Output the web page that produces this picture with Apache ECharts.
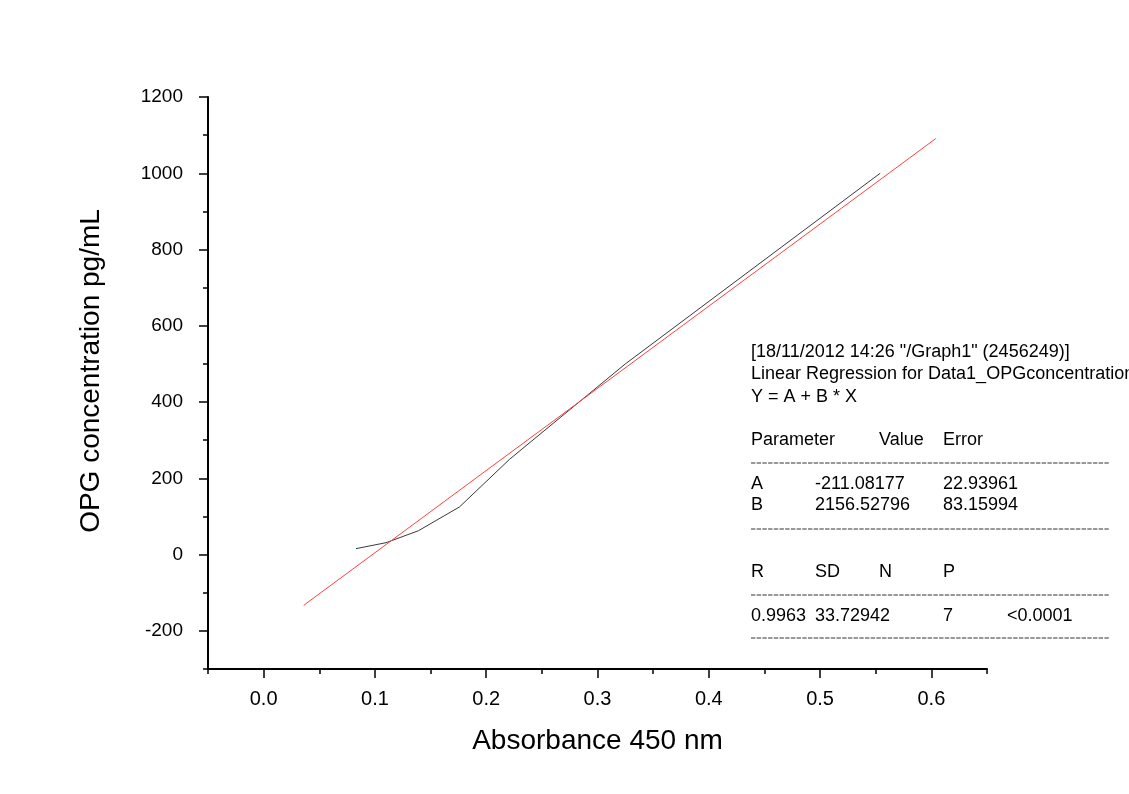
<!DOCTYPE html>
<html>
<head>
<meta charset="utf-8">
<script src="https://cdn.jsdelivr.net/npm/echarts@6/dist/echarts.min.js"></script>
<style>html,body{margin:0;padding:0;background:#fff}#c{width:1129px;height:794px}</style>
</head>
<body>
<div id="c"></div>
<script>
// ---- data ----
const absorbance = [0.083, 0.110, 0.139, 0.176, 0.221, 0.325, 0.554];
const concentration = [15.6, 31.25, 62.5, 125, 250, 500, 1000];
const fitX = [0.036, 0.604];
const fitY = [-133, 1091];

const xMajorTicks = [0.0, 0.1, 0.2, 0.3, 0.4, 0.5, 0.6];
const xMinorTicks = [-0.05, 0.05, 0.15, 0.25, 0.35, 0.45, 0.55, 0.65];
const yMajorTicks = [-200, 0, 200, 400, 600, 800, 1000, 1200];
const yMinorTicks = [-300, -100, 100, 300, 500, 700, 900, 1100];

const boxHeader = ['[18/11/2012 14:26 "/Graph1" (2456249)]', 'Linear Regression for Data1_OPGconcentration', 'Y = A + B * X'];
const paramHeader = ['Parameter', 'Value', 'Error'];
const paramRows = [['A', '-211.08177', '22.93961'], ['B', '2156.52796', '83.15994']];
const statHeader = ['R', 'SD', 'N', 'P'];
const statRow = ['0.9963', '33.72942', '7', '<0.0001'];

const FONT = '"Liberation Sans", Arial, sans-serif';
const chart = echarts.init(document.getElementById('c'), null, {renderer: 'canvas'});

const axisCommon = {
  type: 'value',
  splitLine: {show: false},
  axisLine: {show: true, onZero: false, lineStyle: {color: '#000', width: 2}},
};
const dataPts = absorbance.map((x, i) => [x, concentration[i]]);
const fitPts = fitX.map((x, i) => [x, fitY[i]]);

// text box
const bx = 751;
const col = [751, 815, 879, 943, 1007];
const tstyle = (t, x, y) => ({type: 'text', x: x, y: y, style: {text: t, fill: '#000', font: '18px ' + FONT, textVerticalAlign: 'middle'}});
const dash = (y) => ({type: 'line', shape: {x1: bx, y1: y, x2: 1109, y2: y}, style: {stroke: '#333', lineWidth: 1, lineDash: [4.4, 1.3]}});
const graphics = [];
boxHeader.forEach((t, i) => graphics.push(tstyle(t, bx, 352 + i * 22.4)));
graphics.push(tstyle(paramHeader[0], col[0], 440));
graphics.push(tstyle(paramHeader[1], col[2], 440));
graphics.push(tstyle(paramHeader[2], col[3], 440));
graphics.push(dash(463));
paramRows.forEach((r, i) => {
  graphics.push(tstyle(r[0], col[0], 484 + i * 21.5));
  graphics.push(tstyle(r[1], col[1], 484 + i * 21.5));
  graphics.push(tstyle(r[2], col[3], 484 + i * 21.5));
});
graphics.push(dash(529));
statHeader.forEach((t, i) => graphics.push(tstyle(t, col[i], 572)));
graphics.push(dash(595));
graphics.push(tstyle(statRow[0], col[0], 616));
graphics.push(tstyle(statRow[1], col[1], 616));
graphics.push(tstyle(statRow[2], col[3], 616));
graphics.push(tstyle(statRow[3], col[4], 616));
graphics.push(dash(638));

chart.setOption({
  animation: false,
  backgroundColor: '#fff',
  grid: {left: 208, right: 142, top: 97, bottom: 125, containLabel: false},
  xAxis: [
    Object.assign({}, axisCommon, {
      min: -0.05, max: 0.65, position: 'bottom',
      axisTick: {show: true, length: 9, customValues: xMajorTicks, lineStyle: {color: '#000', width: 1.5}},
      axisLabel: {customValues: xMajorTicks, margin: 20, color: '#000', fontSize: 20, fontFamily: FONT, formatter: v => v.toFixed(1)},
      name: 'Absorbance 450 nm', nameLocation: 'middle', nameGap: 58,
      nameTextStyle: {fontSize: 28, fontFamily: FONT, color: '#000'}
    }),
    Object.assign({}, axisCommon, {
      min: -0.05, max: 0.65, position: 'bottom', offset: 0,
      axisLine: {show: false, onZero: false},
      axisTick: {show: true, length: 5, customValues: xMinorTicks, lineStyle: {color: '#000', width: 1.5}},
      axisLabel: {show: false}
    })
  ],
  yAxis: [
    Object.assign({}, axisCommon, {
      min: -300, max: 1200, position: 'left',
      axisTick: {show: true, length: 9, customValues: yMajorTicks, lineStyle: {color: '#000', width: 1.5}},
      axisLabel: {customValues: yMajorTicks, margin: 25, color: '#000', fontSize: 19, fontFamily: FONT, formatter: v => String(v)},
      name: 'OPG concentration pg/mL', nameLocation: 'middle', nameGap: 103, nameRotate: 90,
      nameTextStyle: {fontSize: 28, fontFamily: FONT, color: '#000', padding: [0, 0, 0, 24]}
    }),
    Object.assign({}, axisCommon, {
      min: -300, max: 1200, position: 'left', offset: 0,
      axisLine: {show: false, onZero: false},
      axisTick: {show: true, length: 5, customValues: yMinorTicks, lineStyle: {color: '#000', width: 1.5}},
      axisLabel: {show: false}
    })
  ],
  series: [
    {type: 'line', data: dataPts, xAxisIndex: 0, yAxisIndex: 0, showSymbol: false, symbol: 'none',
     lineStyle: {color: '#3a3a3a', width: 1}, z: 3},
    {type: 'line', data: fitPts, xAxisIndex: 0, yAxisIndex: 0, showSymbol: false, symbol: 'none',
     lineStyle: {color: '#ff4040', width: 1}, z: 4}
  ],
  graphic: graphics
});
</script>
</body>
</html>
